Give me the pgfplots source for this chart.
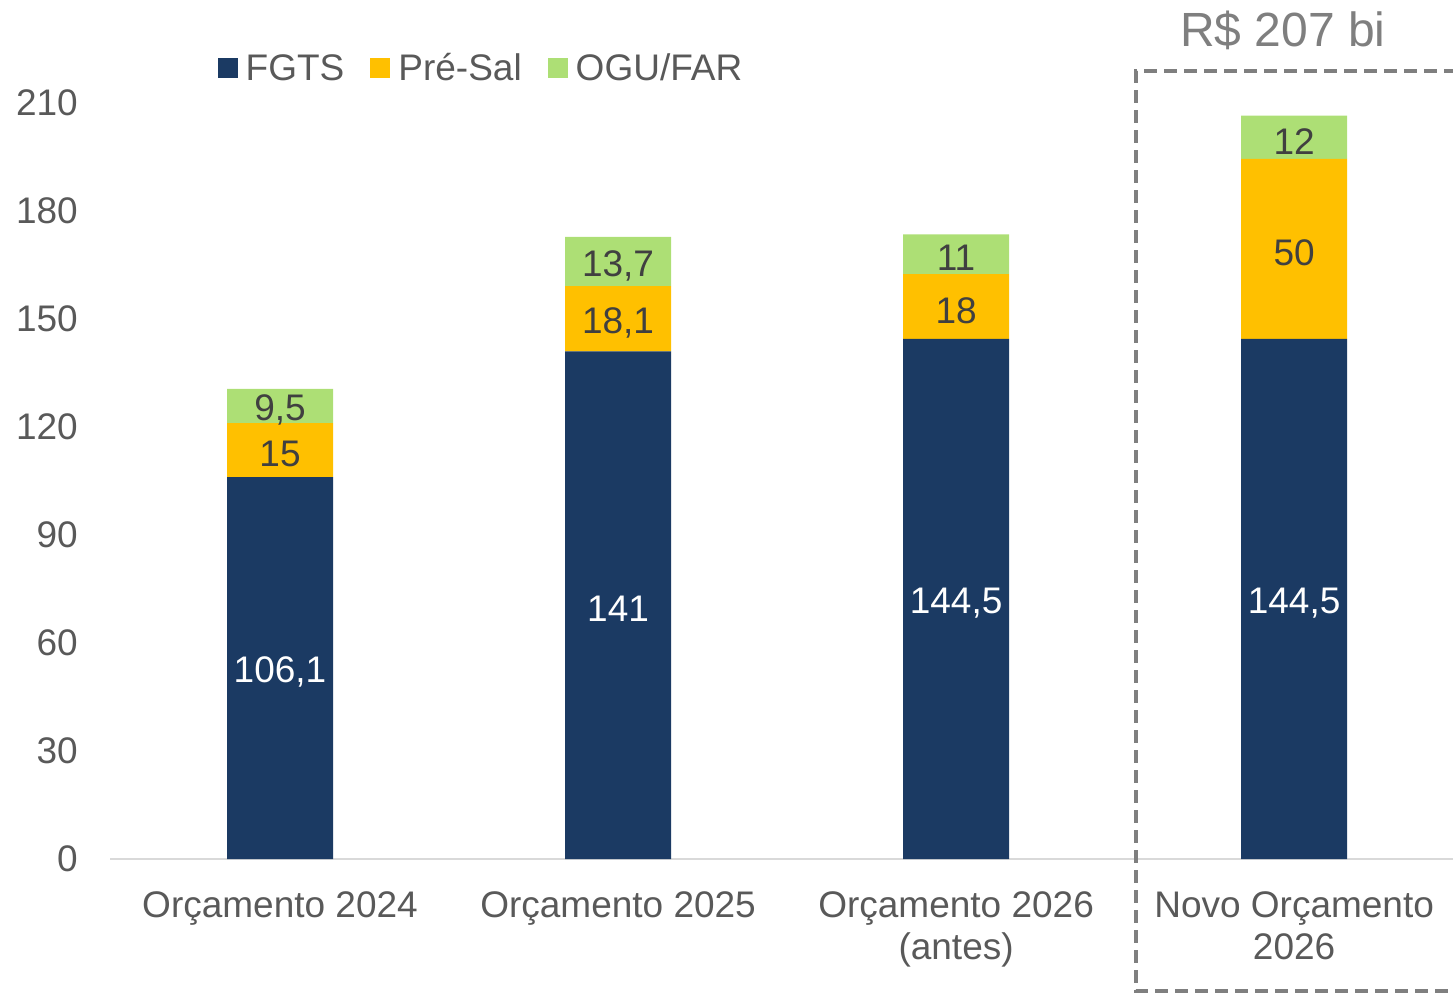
\documentclass[border=0pt]{standalone}
\usepackage{pgfplots}
\pgfplotsset{compat=1.18}
\usepackage{fontspec}
\setmainfont{Liberation Sans}
\definecolor{navy}{HTML}{1B3A63}
\definecolor{gold}{HTML}{FFC000}
\definecolor{lgreen}{HTML}{ADDF75}
\definecolor{txt}{HTML}{595959}
\definecolor{dark}{HTML}{404040}
\definecolor{dashc}{HTML}{7F7F7F}
\definecolor{axl}{HTML}{D9D9D9}
\begin{document}
\begin{tikzpicture}[x=1pt,y=1pt]
\useasboundingbox (0,0) rectangle (1453,-993);
\begin{axis}[
  at={(110pt,-859pt)}, anchor=south west,
  scale only axis, width=1343pt, height=756pt,
  ybar stacked, bar width=106pt,
  xmin=-0.503, xmax=3.470, ymin=0, ymax=210,
  xtick={0,1,2,3},
  xticklabels={Orçamento 2024, Orçamento 2025, {Orçamento 2026\\(antes)}, {Novo Orçamento\\2026}},
  ytick={0,30,...,210},
  axis lines*=left,
  y axis line style={draw=none},
  x axis line style={draw=axl, line width=2pt},
  major tick length=0pt,
  tick label style={font=\fontsize{37}{42}\selectfont, text=txt},
  yticklabel style={anchor=east, inner sep=0pt, xshift=-32pt},
  xticklabel style={anchor=north, inner sep=0pt, yshift=-32pt, align=center},
  clip=false,
  nodes near coords,
  point meta=rawy,
  every node near coord/.append style={anchor=center, inner sep=0pt, yshift=-4pt,
     font=\fontsize{37}{42}\selectfont},
  legend columns=-1,
  legend image code/.code={\fill[#1] (0pt,-10pt) rectangle (20pt,10pt);},
  legend style={draw=none, fill=none, at={(0.2755,1.0463)}, anchor=center,
     font=\fontsize{37}{42}\selectfont, text=txt,
     nodes={inner sep=0pt},
     /tikz/every odd column/.append style={column sep=8pt},
     /tikz/every even column/.append style={column sep=26pt}},
  /pgf/number format/use comma,
  /pgf/number format/fixed,
  /pgf/number format/precision=1,
  /pgf/number format/assume math mode=true,
]
\addplot+[fill=navy, draw=none, every node near coord/.append style={text=white}]
  coordinates {(0,106.1) (1,141) (2,144.5) (3,144.5)};
\addplot+[fill=gold, draw=none, every node near coord/.append style={text=dark}]
  coordinates {(0,15) (1,18.1) (2,18) (3,50)};
\addplot+[fill=lgreen, draw=none, every node near coord/.append style={text=dark}]
  coordinates {(0,9.5) (1,13.7) (2,11) (3,12)};
\legend{FGTS, Pré-Sal, OGU/FAR}
\node[text=dashc, font=\fontsize{48}{56}\selectfont] at (axis cs:2.967,230.3) {R\$ 207 bi};
\draw[dashc, line width=4pt, dash pattern=on 13pt off 7pt]
  (axis cs:3.6,218.9) -| (axis cs:2.533,-36.7) -- (axis cs:3.6,-36.7);
\end{axis}
\end{tikzpicture}
\end{document}
